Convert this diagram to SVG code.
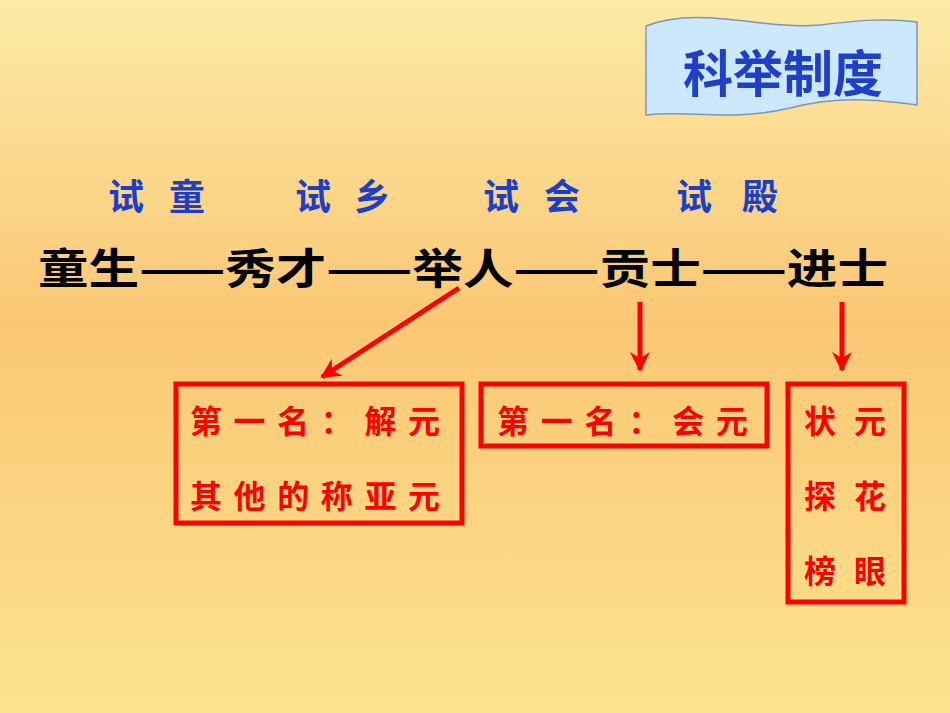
<svg xmlns="http://www.w3.org/2000/svg" width="950" height="713" viewBox="0 0 950 713">
<defs>
<linearGradient id="bg" x1="0" y1="0" x2="0" y2="1">
<stop offset="0" stop-color="#FCEBA6"/>
<stop offset="0.45" stop-color="#FAC775"/>
<stop offset="1" stop-color="#FCE38E"/>
</linearGradient>
<marker id="ah" viewBox="0 0 10 10" refX="9" refY="5" markerWidth="4" markerHeight="4" orient="auto" markerUnits="strokeWidth">
<path d="M0,0 L10,5 L0,10 L3,5 z" fill="#FF0000"/>
</marker>
<style>
.cjk{font-family:"Noto Sans CJK SC","Liberation Sans",sans-serif;font-weight:bold}
.red{fill:#FF0000;font-size:32px}
.blue{fill:#1D3FC8;font-size:36px}
.box{fill:none;stroke:#FF0000;stroke-width:5}
.ar{stroke:#FF0000;stroke-width:5;fill:none;marker-end:url(#ah)}
</style>
</defs>
<rect width="950" height="713" fill="url(#bg)"/>
<g id="title">
<path d="M646,26 C700,5 760,30 820,25 C860,20 890,18 917,22 L917,105 C880,100 840,95 790,108 C730,122 690,110 646,115 Z" fill="#CCE8FF" stroke="#7F95B5" stroke-width="1.5"/>
<text class="cjk" x="783" y="92" text-anchor="middle" font-size="50" fill="#1F3FC8">科举制度</text>
</g>
<g id="exams" class="cjk blue">
<text x="108" y="210" textLength="97">试童</text>
<text x="295" y="210" textLength="95">试乡</text>
<text x="483" y="210" textLength="97">试会</text>
<text x="676" y="210" textLength="102">试殿</text>
</g>
<g id="chain">
<text class="cjk" x="38" y="284" font-size="42" fill="#000" textLength="850" lengthAdjust="spacingAndGlyphs">童生——秀才——举人——贡士——进士</text>
</g>
<g id="connectors">
<line class="ar" x1="459" y1="288" x2="322" y2="377"/>
<line class="ar" x1="640" y1="302" x2="640" y2="370"/>
<line class="ar" x1="842" y1="302" x2="842" y2="370"/>
</g>
<g id="box1">
<rect class="box" x="176" y="384" width="286" height="139"/>
<text class="cjk red" x="190" y="433" textLength="250">第一名：解元</text>
<text class="cjk red" x="190" y="508" textLength="250">其他的称亚元</text>
</g>
<g id="box2">
<rect class="box" x="481" y="384" width="286" height="62"/>
<text class="cjk red" x="497" y="433" textLength="251">第一名：会元</text>
</g>
<g id="box3">
<rect class="box" x="788" y="384" width="116" height="218"/>
<text class="cjk red" x="804" y="433" textLength="82">状元</text>
<text class="cjk red" x="804" y="508" textLength="82">探花</text>
<text class="cjk red" x="804" y="583" textLength="82">榜眼</text>
</g>
</svg>
